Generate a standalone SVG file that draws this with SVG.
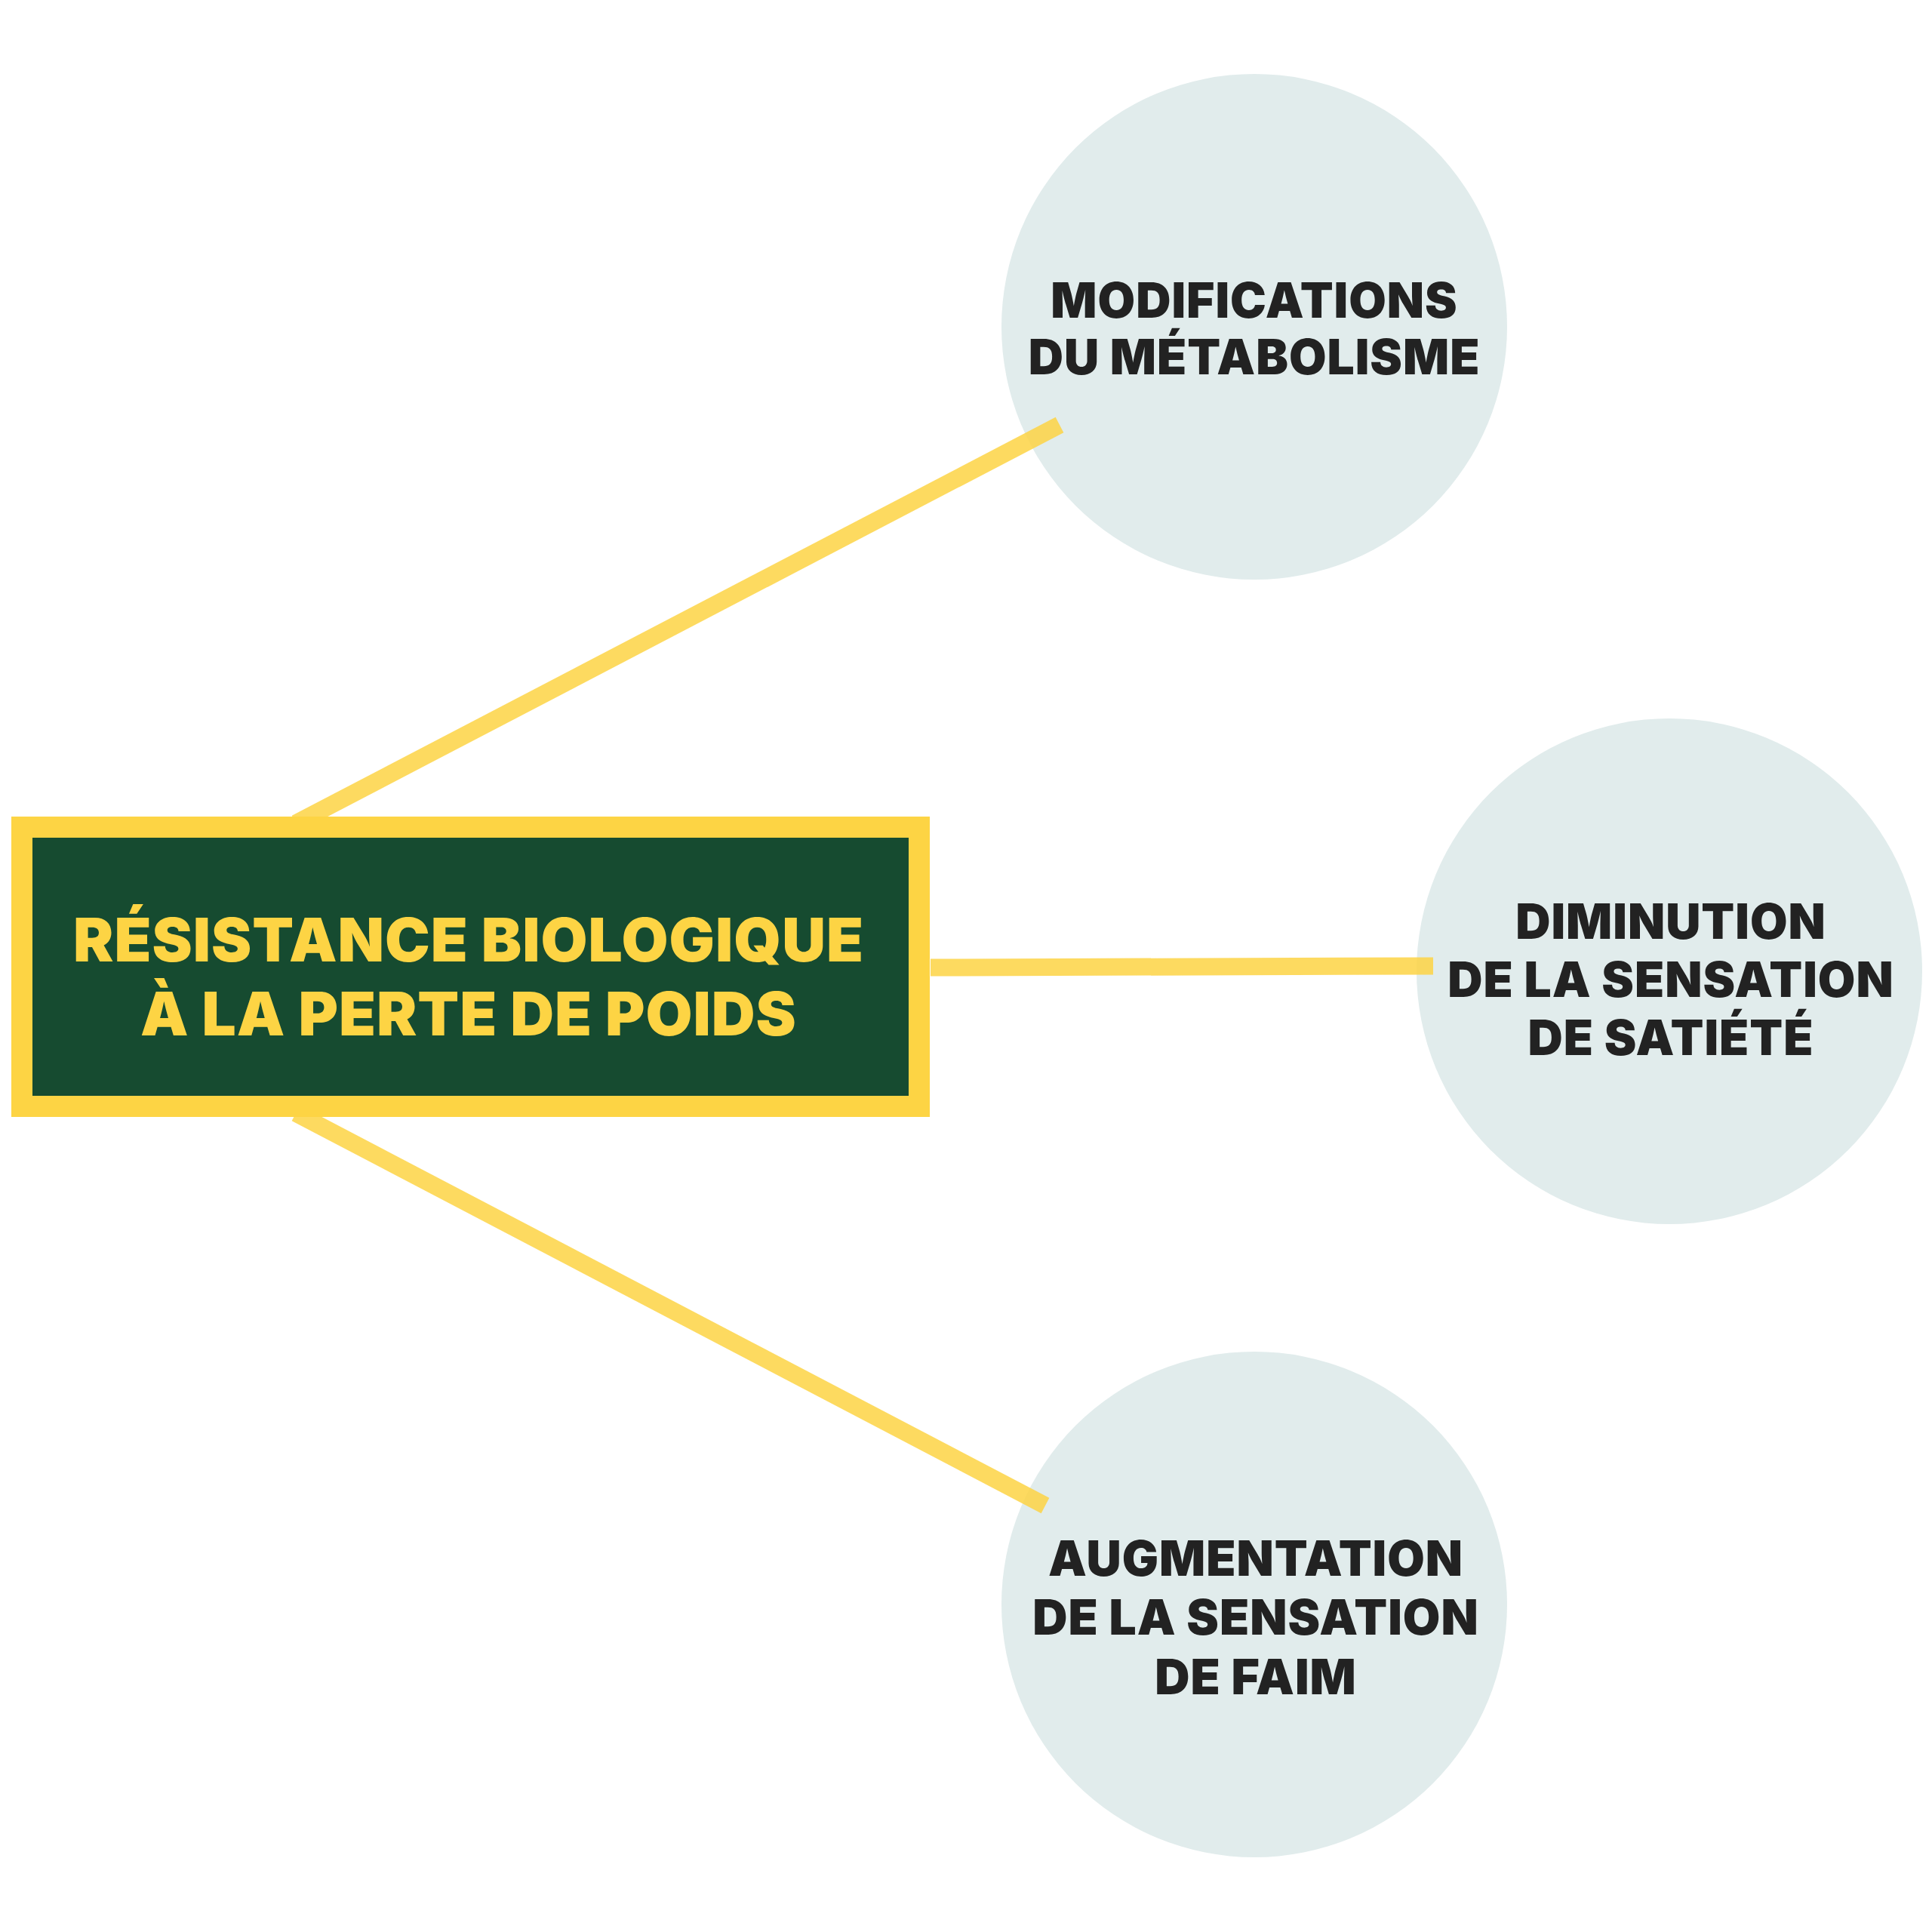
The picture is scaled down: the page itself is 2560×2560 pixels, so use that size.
<svg xmlns="http://www.w3.org/2000/svg" width="2560" height="2560" viewBox="0 0 2560 2560">
<style>
.c{fill:#e1ecec}
.t{font-family:Inter,"Noto Sans",sans-serif;font-weight:900;fill:#222;font-size:64px;text-anchor:middle;letter-spacing:1px}
.m{font-family:Inter,"Noto Sans",sans-serif;font-weight:900;fill:#fdd444;font-size:80px;text-anchor:middle;letter-spacing:1px}
.l{stroke:#fdd444;stroke-width:23;fill:none;opacity:0.85}
</style>
<rect width="2560" height="2560" fill="#fff"/>
<g id="n1"><circle class="c" cx="1662" cy="433" r="335"/>
<text class="t" x="1662" y="421">MODIFICATIONS</text><text class="t" x="1662" y="496">DU MÉTABOLISME</text></g>
<g id="n2"><circle class="c" cx="2212" cy="1287" r="335"/>
<text class="t" x="2214" y="1244">DIMINUTION</text><text class="t" x="2214" y="1321">DE LA SENSATION</text><text class="t" x="2214" y="1398">DE SATIÉTÉ</text></g>
<g id="n3"><circle class="c" cx="1662" cy="2126" r="335"/>
<text class="t" x="1664" y="2088">AUGMENTATION</text><text class="t" x="1664" y="2166">DE LA SENSATION</text><text class="t" x="1664" y="2245">DE FAIM</text></g>
<g id="connectors">
<line class="l" x1="392" y1="1091" x2="1404" y2="563"/>
<line class="l" x1="1233" y1="1282" x2="1899" y2="1280"/>
<line class="l" x1="392" y1="1475" x2="1385" y2="1995"/>
</g>
<g id="main"><rect x="29" y="1096" width="1189" height="370" fill="#164b30" stroke="#fdd444" stroke-width="28"/>
<text class="m" x="621" y="1274">RÉSISTANCE BIOLOGIQUE</text><text class="m" x="621" y="1372">À LA PERTE DE POIDS</text></g>
</svg>
